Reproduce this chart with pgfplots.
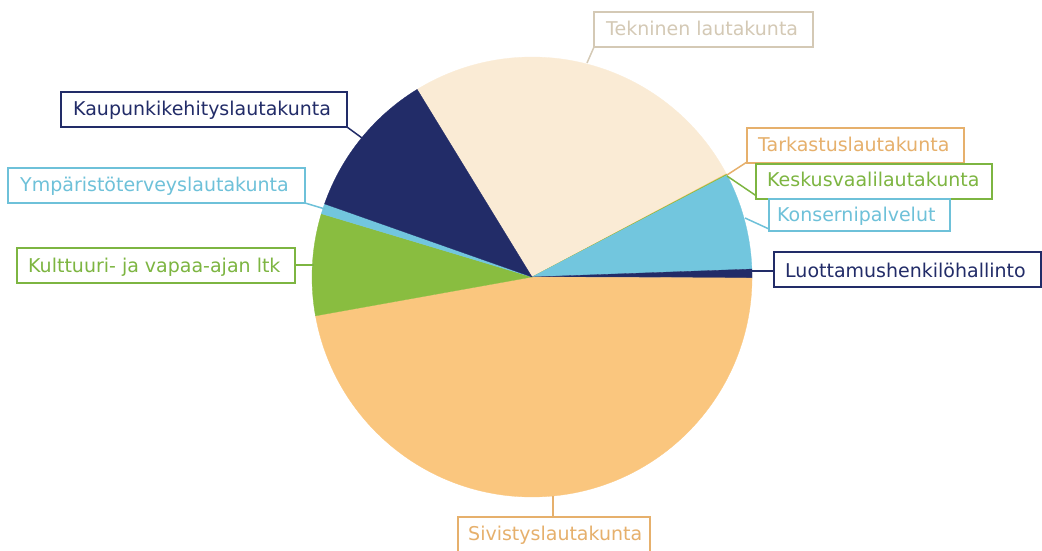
\documentclass[border=0pt]{standalone}
\usepackage{pgfplots}
\pgfplotsset{compat=1.18}
\usepackage{pgfplotstable}
\usepackage{fontspec}
\setmainfont{DejaVu Sans}

\definecolor{cnavy}{HTML}{222C68}
\definecolor{cbeige}{HTML}{FAEBD5}
\definecolor{cbeigeln}{HTML}{D4C9B5}
\definecolor{corange}{HTML}{FAC67E}
\definecolor{corangeln}{HTML}{E6B06C}
\definecolor{cgreen}{HTML}{89BD40}
\definecolor{cgreenln}{HTML}{7DB541}
\definecolor{cblue}{HTML}{72C6DE}
\definecolor{cblueln}{HTML}{6EC1D9}

% shares in percent, clockwise from the first slice
\pgfplotstableread[col sep=comma]{
share,col
26.03,cbeige
0.05,corange
0.07,cgreen
7.08,cblue
0.65,cnavy
47.10,corange
7.47,cgreen
0.75,cblue
10.86,cnavy
}\slices

\newcommand{\lbl}[8]{% left,top,right,bottom,colour,text x,baseline,text
  \draw[#5, line width=1.7pt, fill=white] (#1,#2) rectangle (#3,#4);
  \node[#5, anchor=base west, inner sep=0pt, font=\fontsize{19}{22}\selectfont] at (#6,#7) {#8};}

\begin{document}
\begin{tikzpicture}
\begin{axis}[at={(0pt,0pt)}, anchor=south west, width=1042pt, height=550pt, scale only axis,
  xmin=-532, xmax=510, ymin=-273, ymax=277, hide axis, clip=false]
\pgfplotstablegetrowsof{\slices}
\pgfmathtruncatemacro{\last}{\pgfplotsretval-1}
\xdef\acc{121.7}
\foreach \i in {0,...,\last} {
  \pgfplotstablegetelem{\i}{share}\of{\slices}\let\sh\pgfplotsretval
  \pgfplotstablegetelem{\i}{col}\of{\slices}\let\cl\pgfplotsretval
  \pgfmathsetmacro{\a}{\acc}
  \pgfmathsetmacro{\b}{\acc-\sh*3.6}
  \edef\doslice{\noexpand\addplot[fill=\cl, draw=\cl, line width=0.3pt, data cs=polar]
    coordinates {(0,0) (\a,220)} arc[start angle=\a, end angle=\b, radius=220pt] -- cycle;}
  \doslice
  \xdef\acc{\b}
}
\end{axis}
\begin{scope}[x=1pt, y=-1pt, yshift=550pt]
  % leader lines
  \draw[cbeigeln, line width=1.5pt] (594,47) -- (587,63);
  \draw[corangeln, line width=1.5pt] (747,162) -- (727,175);
  \draw[cgreenln, line width=1.5pt] (758,197) -- (727,176);
  \draw[cblueln, line width=1.5pt] (769,229) -- (745,218);
  \draw[cnavy, line width=1.5pt] (750,271) -- (774,271);
  \draw[cnavy, line width=1.5pt] (347,127) -- (362,138);
  \draw[cblueln, line width=1.5pt] (305,203) -- (325,209);
  \draw[cgreenln, line width=1.5pt] (295,265) -- (314,265);
  \draw[corangeln, line width=1.5pt] (553,496) -- (553,517);
  % label boxes
  \lbl{594}{12}{813}{47}{cbeigeln}{606}{35.5}{Tekninen lautakunta}
  \lbl{747}{128}{964}{163}{corangeln}{758}{152}{Tarkastuslautakunta}
  \lbl{756}{164}{992}{199}{cgreenln}{767}{187}{Keskusvaalilautakunta}
  \lbl{769}{199}{950}{231}{cblueln}{777}{221}{Konsernipalvelut}
  \lbl{774}{252}{1041}{287}{cnavy}{785}{277}{Luottamushenkilöhallinto}
  \lbl{61}{92}{347}{127}{cnavy}{73}{115.5}{Kaupunkikehityslautakunta}
  \lbl{8}{168}{305}{203}{cblueln}{20}{192}{Ympäristöterveyslautakunta}
  \lbl{17}{248}{295}{283}{cgreenln}{28}{272}{Kulttuuri- ja vapaa-ajan ltk}
  \lbl{458}{517}{650}{562}{corangeln}{468}{540}{Sivistyslautakunta}
\end{scope}
\pgfresetboundingbox
\path (0pt,0pt) rectangle (1042pt,550pt);
\end{tikzpicture}
\end{document}
